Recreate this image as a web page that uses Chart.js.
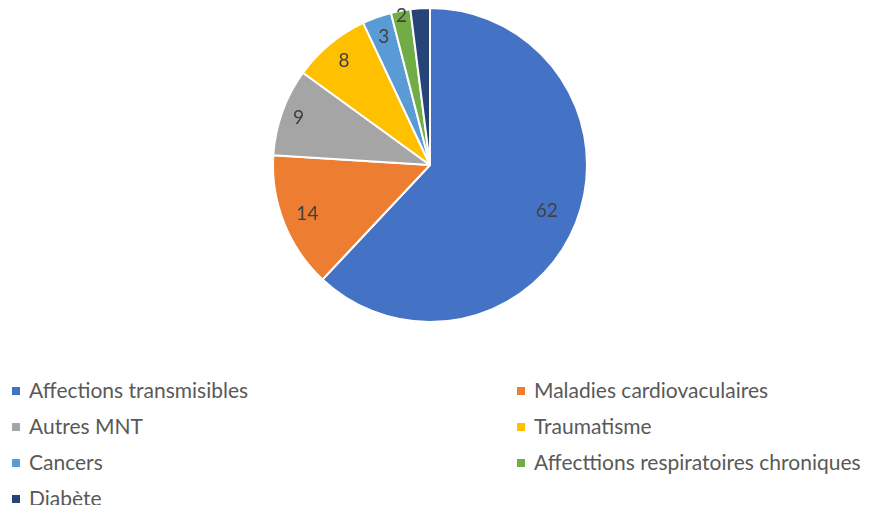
<!DOCTYPE html>
<html>
<head>
<meta charset="utf-8">
<script src="https://cdn.jsdelivr.net/npm/chart.js@4/dist/chart.umd.min.js"></script>
<style>
  html, body { margin: 0; padding: 0; background: #fff; }
  #wrap { position: relative; width: 876px; height: 505px; overflow: hidden; }
  #box { position: absolute; left: 0; top: 0; width: 876px; height: 330px; }
  #leg { position: absolute; left: 0; top: 378px; width: 876px; font-family: Lato, "Open Sans", sans-serif; font-size: 21px; color: #595959; }
  #leg .item { position: absolute; white-space: nowrap; line-height: 24px; }
  #leg .sw { display: inline-block; width: 8px; height: 8px; margin-right: 9px; vertical-align: 3px; }
</style>
</head>
<body>
<div id="wrap">
  <div id="box"><canvas id="c"></canvas></div>
  <div id="leg"></div>
</div>
<script>
var categories = ["Affections transmisibles", "Maladies cardiovaculaires", "Autres MNT", "Traumatisme", "Cancers", "Affecttions respiratoires chroniques", "Diabète"];
var values = [62, 14, 9, 8, 3, 2, 2];
var colors = ["#4472C4", "#ED7D31", "#A5A5A5", "#FFC000", "#5B9BD5", "#70AD47", "#264478"];

// label radius (fraction of outer radius), null = no label
var labelPos = [0.8, 0.84, 0.89, 0.86, 0.87, 0.97, null];

var sliceLabels = {
    id: 'sliceLabels',
    afterDatasetsDraw: function (chart) {
        var ctx = chart.ctx;
        var meta = chart.getDatasetMeta(0);
        ctx.save();
        ctx.font = "19px Lato, 'Open Sans', sans-serif";
        ctx.fillStyle = "#404040";
        ctx.textAlign = "center";
        ctx.textBaseline = "middle";
        meta.data.forEach(function (arc, i) {
            if (labelPos[i] == null) return;
            var p = arc.getProps(['x', 'y', 'startAngle', 'endAngle', 'outerRadius'], true);
            var mid = (p.startAngle + p.endAngle) / 2;
            var r = p.outerRadius * labelPos[i];
            ctx.fillText(String(values[i]), p.x + r * Math.cos(mid), p.y + r * Math.sin(mid));
        });
        ctx.restore();
    }
};

var chart = new Chart(document.getElementById("c"), {
    type: 'pie',
    data: {
        labels: categories,
        datasets: [{
            data: values,
            backgroundColor: colors,
            borderColor: '#ffffff',
            borderWidth: 2
        }]
    },
    options: {
        responsive: true,
        maintainAspectRatio: false,
        animation: false,
        layout: { padding: { top: 7, bottom: 7, left: 0, right: 16 } },
        plugins: {
            legend: { display: false },
            tooltip: { enabled: false }
        }
    },
    plugins: [sliceLabels]
});

// two column legend like the original
var leg = document.getElementById("leg");
var html = "";
for (var i = 0; i < categories.length; i++) {
    var col = i % 2, row = Math.floor(i / 2);
    var posX = col == 0 ? 12 : 517;
    var posY = row * 36;
    html += "<div class='item' style='left:" + posX + "px;top:" + posY + "px'><span class='sw' style='background:" + colors[i] + "'></span>" + categories[i] + "</div>";
}
leg.innerHTML = html;
</script>
</body>
</html>
